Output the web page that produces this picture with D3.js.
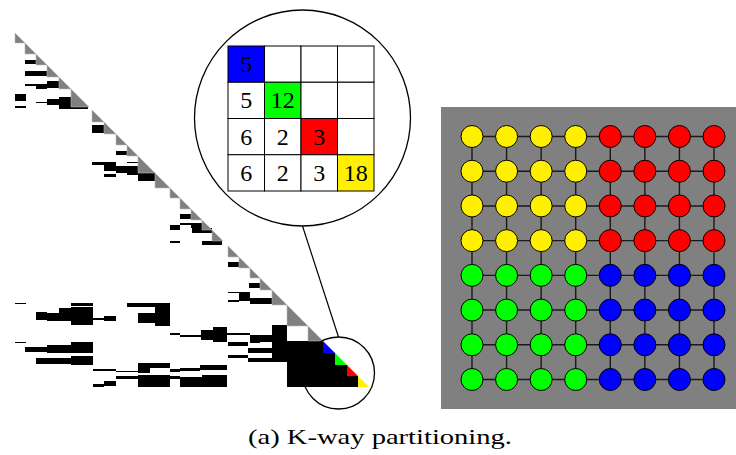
<!DOCTYPE html>
<html>
<head>
<meta charset="utf-8">
<script src="https://cdn.jsdelivr.net/npm/d3@7"></script>
<style>
  body { margin: 0; background: #fff; }
</style>
</head>
<body>
<div id="chart"></div>
<script>
// Matrix size (rows = cols) in index units
const matrixSize = 354;

// Diagonal blocks of the lower-triangular matrix [start, end]
const diagBlocks = [
    [0, 10], [10, 21], [21, 32], [32, 44], [44, 56], [56, 74], [77, 89], [89, 101],
    [101, 112], [112, 123], [123, 140], [140, 155], [155, 165], [165, 176], [176, 187],
    [187, 197], [197, 208], [213, 224], [224, 235], [235, 245], [245, 257], [257, 272],
    [272, 293], [293, 308], [308, 320], [320, 332], [332, 343], [343, 354]
];

// Off-diagonal nonzero blocks [colStart, colEnd, rowStart, rowEnd]
const offBlocks = [
    [10, 21, 27, 31], [10, 32, 38, 43], [10, 21, 51, 52.5], [21, 32, 51, 56], [32, 44, 48, 55],
    [0, 11, 61, 68], [0, 11, 73, 74.5], [21, 32, 68.5, 70], [32, 44, 66, 72], [44, 56, 64, 76],
    [56, 73, 73, 76], [77, 89, 92, 100],
    [101, 112, 118, 122], [112, 123, 128.5, 129.5], [77, 89, 129, 131.5], [89, 101, 129, 138],
    [101, 123, 133, 140], [112, 123, 140, 142], [123, 140, 138.5, 148], [89, 101, 141, 144],
    [165, 176, 181, 185.5], [165, 187, 189.7, 191.5], [176, 187, 190, 195], [155, 165, 192, 197],
    [155, 165, 207.7, 209.7],
    [177, 197, 195, 200], [187, 207, 207.5, 211.5], [213, 224, 228.7, 233.7], [234, 245, 249.7, 255],
    [213, 224, 258.8, 260.2], [224, 235, 258.8, 267.5], [213, 224, 267, 268.7], [235, 257, 265, 271],
    [0, 11, 269.7, 271], [56, 78, 269.7, 273], [112, 155, 269.7, 274.3],
    [21, 32, 278.7, 287], [32, 44, 280, 287.7], [44, 56, 275, 287.7], [56, 78, 273.7, 292],
    [78, 89, 285, 287], [89, 101, 283, 287.7], [123, 140, 280, 290], [140, 155, 269.7, 292.7],
    [155, 165, 299.7, 302], [165, 186, 302, 304.3], [186, 198, 297, 307], [198, 212, 293.7, 308.7],
    [212, 223, 300, 302], [223, 235, 299.7, 302], [213, 233, 308.7, 313], [235, 245, 302, 310.3],
    [245, 257, 302, 308.7], [257, 272, 292, 328.7], [213, 233, 322, 325.3], [233, 257, 315, 319.7],
    [233, 257, 325, 328.7],
    [0, 11, 308.7, 309.7], [10, 32, 313.7, 318.7], [32, 57, 312, 319.7], [56, 78, 308.7, 320.3],
    [21, 57, 324.7, 331], [56, 78, 323, 332], [78, 101, 336, 338], [101, 123, 337.7, 339],
    [123, 155, 330, 335], [123, 135, 335, 339.7], [101, 123, 343, 346.3], [123, 155, 342, 353.7],
    [89, 101, 347.7, 353], [78, 89, 351, 353.7], [155, 165, 336, 338.7], [165, 185, 335, 338],
    [185, 212, 332, 337], [155, 165, 343, 346], [165, 212, 344, 353.7], [187, 212, 342, 353.7],
    [272, 308, 308, 354], [308, 320, 320, 354], [320, 332, 332, 354], [332, 343, 343, 354]
];

// Partition colours (last four diagonal blocks, zoom cells, graph nodes)
const partColors = ["#0000ff", "#00ff00", "#ff0000", "#fff000"];

// Zoomed 4x4 block counts (lower triangle)
const zoomValues = [
    [5],
    [5, 12],
    [6, 2, 3],
    [6, 2, 3, 18]
];

// 8x8 grid graph partition: 3 = yellow, 2 = red, 1 = green, 0 = blue
const gridParts = [
    "33332222",
    "33332222",
    "33332222",
    "33332222",
    "11110000",
    "11110000",
    "11110000",
    "11110000"
];

const caption = "(a) K-way partitioning.";
const serif = "'Times New Roman', 'Liberation Serif', Times, serif";

const width = 736, height = 455;

const svg = d3.select("#chart")
    .append("svg")
    .attr("width", width)
    .attr("height", height);

// ---- Sparse matrix ----
const mx = d3.scaleLinear().domain([0, matrixSize]).range([15, 15 + matrixSize]);
const my = d3.scaleLinear().domain([0, matrixSize]).range([33, 33 + matrixSize]);

const matrix = svg.append("g");

matrix.selectAll(".nz")
    .data(offBlocks)
    .join("rect")
    .attr("class", "nz")
    .attr("x", d => mx(d[0]))
    .attr("y", d => my(d[2]))
    .attr("width", d => mx(d[1]) - mx(d[0]))
    .attr("height", d => my(d[3]) - my(d[2]))
    .attr("fill", "black")
    .attr("shape-rendering", "crispEdges");

const nBlocks = diagBlocks.length;
matrix.selectAll(".diag")
    .data(diagBlocks)
    .join("path")
    .attr("class", "diag")
    .attr("d", d => `M${mx(d[0])},${my(d[0])}L${mx(d[1])},${my(d[1])}L${mx(d[0])},${my(d[1])}Z`)
    .attr("fill", (d, i) => i >= nBlocks - 4 ? partColors[i - (nBlocks - 4)] : "#808080")
    .attr("stroke", (d, i) => i >= nBlocks - 4 ? "none" : "#b8b8b8")
    .attr("stroke-width", 0.6);

// ---- Magnifier ----
const big = { cx: 302.5, cy: 118, r: 108 };
const small = { cx: 338.5, cy: 373, r: 36 };

svg.append("line")
    .attr("x1", big.cx).attr("y1", big.cy + big.r)
    .attr("x2", small.cx).attr("y2", small.cy - small.r)
    .attr("stroke", "black").attr("stroke-width", 1.2);

svg.append("circle")
    .attr("cx", small.cx).attr("cy", small.cy).attr("r", small.r)
    .attr("fill", "none").attr("stroke", "black").attr("stroke-width", 1.3);

svg.append("circle")
    .attr("cx", big.cx).attr("cy", big.cy).attr("r", big.r)
    .attr("fill", "white").attr("stroke", "black").attr("stroke-width", 1.3);

const zx = d3.scaleBand().domain(d3.range(4)).range([228, 374]);
const zy = d3.scaleBand().domain(d3.range(4)).range([46, 191]);

const cells = [];
for (let r = 0; r < 4; r++) {
    for (let c = 0; c < 4; c++) {
        cells.push({ r, c, v: c <= r ? zoomValues[r][c] : null });
    }
}

const zoomG = svg.append("g");
zoomG.selectAll("rect")
    .data(cells)
    .join("rect")
    .attr("x", d => zx(d.c))
    .attr("y", d => zy(d.r))
    .attr("width", zx.bandwidth())
    .attr("height", zy.bandwidth())
    .attr("fill", d => d.r === d.c ? partColors[d.r] : "white")
    .attr("stroke", "black")
    .attr("stroke-width", 1);

zoomG.selectAll("text")
    .data(cells.filter(d => d.v !== null))
    .join("text")
    .attr("x", d => zx(d.c) + zx.bandwidth() / 2)
    .attr("y", d => zy(d.r) + zy.bandwidth() / 2 + 8)
    .attr("text-anchor", "middle")
    .style("font-family", serif)
    .style("font-size", "24px")
    .text(d => d.v);

// ---- Grid graph ----
const gx = d3.scalePoint().domain(d3.range(8)).range([472, 714]);
const gy = d3.scalePoint().domain(d3.range(8)).range([136.5, 379.5]);
const nodeColor = { "3": partColors[3], "2": partColors[2], "1": partColors[1], "0": partColors[0] };

svg.append("rect")
    .attr("x", 441).attr("y", 107)
    .attr("width", 295).attr("height", 302)
    .attr("fill", "#808080");

const nodes = [];
gridParts.forEach((row, r) => row.split("").forEach((p, c) => nodes.push({ r, c, p })));

const edges = [];
nodes.forEach(n => {
    if (n.c < 7) edges.push([n, { r: n.r, c: n.c + 1 }]);
    if (n.r < 7) edges.push([n, { r: n.r + 1, c: n.c }]);
});

svg.append("g")
    .selectAll("line")
    .data(edges)
    .join("line")
    .attr("x1", d => gx(d[0].c)).attr("y1", d => gy(d[0].r))
    .attr("x2", d => gx(d[1].c)).attr("y2", d => gy(d[1].r))
    .attr("stroke", "#1a1a1a")
    .attr("stroke-width", 1.4);

svg.append("g")
    .selectAll("circle")
    .data(nodes)
    .join("circle")
    .attr("cx", d => gx(d.c))
    .attr("cy", d => gy(d.r))
    .attr("r", 11)
    .attr("fill", d => nodeColor[d.p])
    .attr("stroke", "black")
    .attr("stroke-width", 1);

// ---- Caption ----
svg.append("text")
    .attr("x", 380)
    .attr("y", 444)
    .attr("text-anchor", "middle")
    .attr("textLength", 264)
    .attr("lengthAdjust", "spacingAndGlyphs")
    .style("font-family", serif)
    .style("font-size", "21px")
    .text(caption);
</script>
</body>
</html>
